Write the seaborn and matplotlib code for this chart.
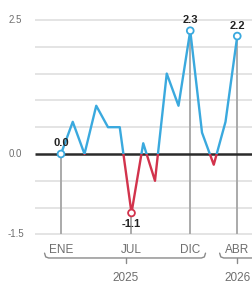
import matplotlib
matplotlib.use("Agg")
import matplotlib.pyplot as plt
import seaborn as sns
import numpy as np
from matplotlib.patches import Rectangle

# monthly change, ENE 2025 .. ABR 2026
months = ['ENE', 'FEB', 'MAR', 'ABR', 'MAY', 'JUN', 'JUL', 'AGO', 'SEP', 'OCT', 'NOV', 'DIC',
          'ENE', 'FEB', 'MAR', 'ABR']
values = [0.0, 0.6, 0.0, 0.9, 0.5, 0.5, -1.1, 0.2, -0.5, 1.5, 0.9, 2.3, 0.4, -0.2, 0.6, 2.2]
highlight = [0, 6, 11, 15]
highlight_labels = ['0.0', '-1.1', '2.3', '2.2']
yticks = [-1.5, 0.0, 2.5]
ytick_labels = ['-1.5', '0.0', '2.5']
grid_levels = [-1.5, -1.0, -0.5, 0.5, 1.0, 1.5, 2.0, 2.5]
years = ['2025', '2026']

BLUE = '#3aa9de'
RED = '#d2334c'
GRAY = '#6e6e6e'

sns.set_theme(style='white')
plt.rcParams['font.family'] = ['Liberation Sans Narrow', 'Liberation Sans', 'DejaVu Sans']

fig = plt.figure(figsize=(2.53, 2.88), dpi=100)
ax = fig.add_axes([0, 0, 1, 1])
ax.set_xlim(-5.19, 16.34)
ax.set_ylim(-2.5, 2.873)
ax.axis('off')

x = np.arange(len(values))
left = -2.2

# grid + zero line
ax.hlines(grid_levels, left, 17, color='#e2e2e2', lw=1.3, zorder=1)
ax.hlines(0, left, 17, color='#2b2b2b', lw=1.8, zorder=3)

# vertical guides for labelled months
for i in highlight:
    ax.vlines(i, -1.5, values[i], color='#aaaaaa', lw=1.4, zorder=2)

# line, blue above zero, red below
sns.lineplot(x=x, y=values, ax=ax, color=BLUE, lw=1.7, zorder=4)
blue_line = ax.lines[-1]
blue_line.set_clip_path(Rectangle((-10, 0), 40, 10, transform=ax.transData))
sns.lineplot(x=x, y=values, ax=ax, color=RED, lw=1.7, zorder=4)
red_line = ax.lines[-1]
red_line.set_clip_path(Rectangle((-10, -10), 40, 10, transform=ax.transData))

hx = [x[i] for i in highlight]
hy = [values[i] for i in highlight]
edge = [RED if v < 0 else BLUE for v in hy]
ax.scatter(hx, hy, s=24, facecolor='white', edgecolor=edge, linewidth=1.3, zorder=5)

for i, lab in zip(highlight, highlight_labels):
    v = values[i]
    if v < 0:
        ax.annotate(lab, (i, v), xytext=(0, -4), textcoords='offset points', ha='center', va='top',
                    fontsize=8, fontweight='bold', color='#222222', zorder=6)
    else:
        ax.annotate(lab, (i, v), xytext=(0, 4), textcoords='offset points', ha='center', va='bottom',
                    fontsize=8, fontweight='bold', color='#222222', zorder=6)

# y tick labels
for v, lab in zip(yticks, ytick_labels):
    ax.text(-3.85, v, lab, ha='center', va='center', fontsize=7, color=GRAY)

# month labels
for i in highlight:
    ax.text(i, -1.79, months[i], ha='center', va='center', fontsize=8.5, color=GRAY)

# year brackets
def bracket(x0, x1, xc, y=-1.94):
    ax.plot([x0, x0 + 0.1, x0 + 0.35, x1 - 0.35, x1 - 0.1, x1],
            [y + 0.09, y + 0.02, y, y, y + 0.02, y + 0.09], color='#8a8a8a', lw=1.0)
    ax.plot([xc, xc], [y, y - 0.09], color='#8a8a8a', lw=1.0)

bracket(-1.4, 12.3, 5.5)
bracket(13.5, 17.5, 15)
ax.text(5.5, -2.31, years[0], ha='center', va='center', fontsize=8.5, color=GRAY)
ax.text(15.05, -2.31, years[1], ha='center', va='center', fontsize=8.5, color=GRAY)

fig.savefig('out.png', dpi=100)
